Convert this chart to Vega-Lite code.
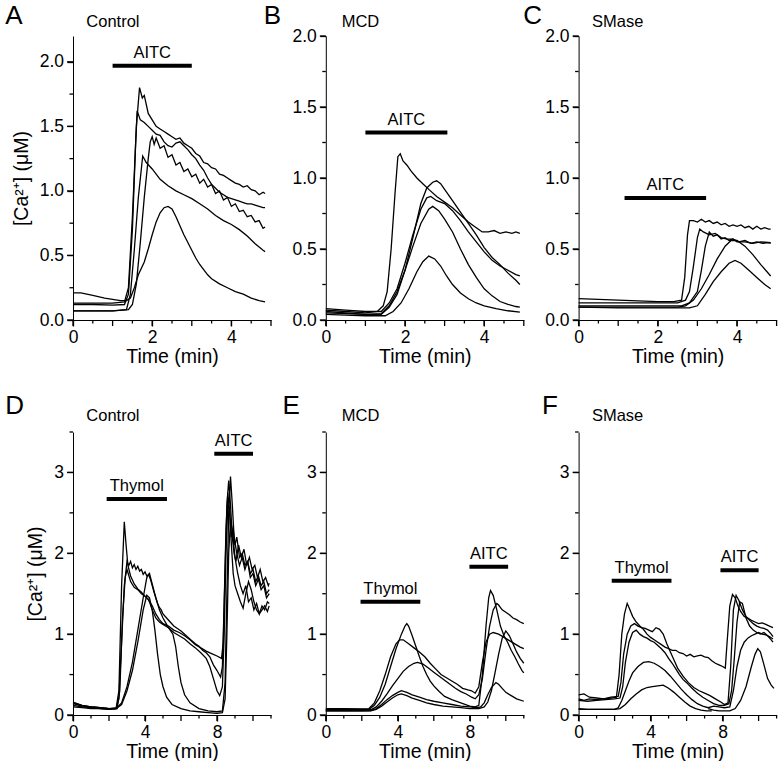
{
"$schema":"https://vega.github.io/schema/vega-lite/v6.json",
"padding":{"left":5,"top":2,"right":0,"bottom":0},
"config":{"view":{"stroke":null},"font":"Liberation Sans",
 "axis":{"grid":false,"domainColor":"#000","tickColor":"#000","labelColor":"#000","titleColor":"#000","labelFont":"Liberation Sans","titleFont":"Liberation Sans","labelFontSize":17.5,"titleFontSize":19.5,"titleFontWeight":"normal","labelOverlap":false,"labelFlush":false,"domainWidth":1,"tickWidth":1.3,"tickSize":6,"ticks":true},
 "axisX":{"labelPadding":2,"titlePadding":2},
 "axisY":{"labelPadding":3.5,"titlePadding":8},
 "text":{"font":"Liberation Sans","color":"#000"}},
"datasets":{
"xt5":[{"t":0,"m":1},{"t":0.5,"m":0},{"t":1,"m":1},{"t":1.5,"m":0},{"t":2,"m":1},{"t":2.5,"m":0},{"t":3,"m":1},{"t":3.5,"m":0},{"t":4,"m":1},{"t":4.5,"m":0},{"t":5,"m":1}],
"xt11":[{"t":0,"m":1},{"t":1,"m":0},{"t":2,"m":1},{"t":3,"m":0},{"t":4,"m":1},{"t":5,"m":0},{"t":6,"m":1},{"t":7,"m":0},{"t":8,"m":1},{"t":9,"m":0},{"t":10,"m":1},{"t":11,"m":0}],
"yt2":[{"v":0,"m":1},{"v":0.25,"m":0},{"v":0.5,"m":1},{"v":0.75,"m":0},{"v":1,"m":1},{"v":1.25,"m":0},{"v":1.5,"m":1},{"v":1.75,"m":0},{"v":2,"m":1}],
"yt35":[{"v":0,"m":1},{"v":0.5,"m":0},{"v":1,"m":1},{"v":1.5,"m":0},{"v":2,"m":1},{"v":2.5,"m":0},{"v":3,"m":1},{"v":3.5,"m":0}],
"A":[
{"s":1,"t":0,"v":0.13},{"s":1,"t":0.5,"v":0.13},{"s":1,"t":1,"v":0.13},{"s":1,"t":1.3,"v":0.14},{"s":1,"t":1.4,"v":0.25},{"s":1,"t":1.5,"v":0.8},{"s":1,"t":1.6,"v":1.5},{"s":1,"t":1.68,"v":1.8},{"s":1,"t":1.75,"v":1.72},{"s":1,"t":1.8,"v":1.74},{"s":1,"t":1.9,"v":1.6},{"s":1,"t":2,"v":1.55},{"s":1,"t":2.1,"v":1.5},{"s":1,"t":2.2,"v":1.48},{"s":1,"t":2.3,"v":1.46},{"s":1,"t":2.4,"v":1.44},{"s":1,"t":2.5,"v":1.42},{"s":1,"t":2.6,"v":1.4},{"s":1,"t":2.7,"v":1.41},{"s":1,"t":2.8,"v":1.37},{"s":1,"t":2.9,"v":1.35},{"s":1,"t":3,"v":1.33},{"s":1,"t":3.1,"v":1.29},{"s":1,"t":3.2,"v":1.27},{"s":1,"t":3.3,"v":1.22},{"s":1,"t":3.4,"v":1.21},{"s":1,"t":3.5,"v":1.18},{"s":1,"t":3.6,"v":1.17},{"s":1,"t":3.7,"v":1.13},{"s":1,"t":3.8,"v":1.12},{"s":1,"t":3.9,"v":1.1},{"s":1,"t":4,"v":1.08},{"s":1,"t":4.1,"v":1.06},{"s":1,"t":4.2,"v":1.05},{"s":1,"t":4.3,"v":1.03},{"s":1,"t":4.4,"v":1.04},{"s":1,"t":4.5,"v":1.01},{"s":1,"t":4.6,"v":1.0},{"s":1,"t":4.7,"v":0.97},{"s":1,"t":4.8,"v":0.99},{"s":1,"t":4.85,"v":0.98},
{"s":2,"t":0,"v":0.12},{"s":2,"t":0.5,"v":0.12},{"s":2,"t":1,"v":0.115},{"s":2,"t":1.3,"v":0.12},{"s":2,"t":1.4,"v":0.2},{"s":2,"t":1.5,"v":0.7},{"s":2,"t":1.58,"v":1.35},{"s":2,"t":1.62,"v":1.62},{"s":2,"t":1.7,"v":1.55},{"s":2,"t":1.8,"v":1.53},{"s":2,"t":1.9,"v":1.5},{"s":2,"t":2,"v":1.47},{"s":2,"t":2.1,"v":1.44},{"s":2,"t":2.2,"v":1.43},{"s":2,"t":2.3,"v":1.38},{"s":2,"t":2.4,"v":1.35},{"s":2,"t":2.5,"v":1.34},{"s":2,"t":2.6,"v":1.37},{"s":2,"t":2.7,"v":1.38},{"s":2,"t":2.8,"v":1.35},{"s":2,"t":2.9,"v":1.32},{"s":2,"t":3,"v":1.28},{"s":2,"t":3.1,"v":1.25},{"s":2,"t":3.2,"v":1.2},{"s":2,"t":3.3,"v":1.16},{"s":2,"t":3.4,"v":1.1},{"s":2,"t":3.5,"v":1.05},{"s":2,"t":3.6,"v":1.02},{"s":2,"t":3.7,"v":0.99},{"s":2,"t":3.8,"v":0.97},{"s":2,"t":3.9,"v":0.95},{"s":2,"t":4,"v":0.94},{"s":2,"t":4.1,"v":0.93},{"s":2,"t":4.2,"v":0.92},{"s":2,"t":4.3,"v":0.91},{"s":2,"t":4.4,"v":0.9},{"s":2,"t":4.5,"v":0.9},{"s":2,"t":4.6,"v":0.89},{"s":2,"t":4.7,"v":0.88},{"s":2,"t":4.8,"v":0.87},{"s":2,"t":4.85,"v":0.87},
{"s":3,"t":0,"v":0.07},{"s":3,"t":0.5,"v":0.07},{"s":3,"t":1,"v":0.07},{"s":3,"t":1.4,"v":0.08},{"s":3,"t":1.5,"v":0.12},{"s":3,"t":1.6,"v":0.28},{"s":3,"t":1.7,"v":0.6},{"s":3,"t":1.8,"v":0.95},{"s":3,"t":1.9,"v":1.25},{"s":3,"t":1.95,"v":1.38},{"s":3,"t":2,"v":1.42},{"s":3,"t":2.05,"v":1.36},{"s":3,"t":2.1,"v":1.41},{"s":3,"t":2.2,"v":1.33},{"s":3,"t":2.3,"v":1.35},{"s":3,"t":2.4,"v":1.26},{"s":3,"t":2.5,"v":1.28},{"s":3,"t":2.6,"v":1.2},{"s":3,"t":2.7,"v":1.22},{"s":3,"t":2.8,"v":1.15},{"s":3,"t":2.9,"v":1.17},{"s":3,"t":3,"v":1.11},{"s":3,"t":3.1,"v":1.13},{"s":3,"t":3.2,"v":1.06},{"s":3,"t":3.3,"v":1.09},{"s":3,"t":3.4,"v":1.03},{"s":3,"t":3.5,"v":1.05},{"s":3,"t":3.6,"v":0.98},{"s":3,"t":3.7,"v":1.0},{"s":3,"t":3.8,"v":0.93},{"s":3,"t":3.9,"v":0.95},{"s":3,"t":4,"v":0.88},{"s":3,"t":4.1,"v":0.9},{"s":3,"t":4.2,"v":0.84},{"s":3,"t":4.3,"v":0.85},{"s":3,"t":4.4,"v":0.8},{"s":3,"t":4.5,"v":0.81},{"s":3,"t":4.6,"v":0.76},{"s":3,"t":4.7,"v":0.77},{"s":3,"t":4.8,"v":0.71},{"s":3,"t":4.85,"v":0.72},
{"s":4,"t":0,"v":0.07},{"s":4,"t":0.5,"v":0.07},{"s":4,"t":1,"v":0.07},{"s":4,"t":1.35,"v":0.08},{"s":4,"t":1.45,"v":0.2},{"s":4,"t":1.55,"v":0.55},{"s":4,"t":1.65,"v":0.95},{"s":4,"t":1.76,"v":1.27},{"s":4,"t":1.85,"v":1.22},{"s":4,"t":2,"v":1.17},{"s":4,"t":2.2,"v":1.09},{"s":4,"t":2.4,"v":1.04},{"s":4,"t":2.6,"v":1.0},{"s":4,"t":2.8,"v":0.97},{"s":4,"t":3,"v":0.94},{"s":4,"t":3.2,"v":0.9},{"s":4,"t":3.4,"v":0.86},{"s":4,"t":3.6,"v":0.81},{"s":4,"t":3.8,"v":0.77},{"s":4,"t":4,"v":0.74},{"s":4,"t":4.2,"v":0.7},{"s":4,"t":4.4,"v":0.65},{"s":4,"t":4.6,"v":0.59},{"s":4,"t":4.8,"v":0.54},{"s":4,"t":4.85,"v":0.53},
{"s":5,"t":0,"v":0.21},{"s":5,"t":0.2,"v":0.21},{"s":5,"t":0.5,"v":0.19},{"s":5,"t":0.8,"v":0.17},{"s":5,"t":1,"v":0.16},{"s":5,"t":1.2,"v":0.15},{"s":5,"t":1.35,"v":0.15},{"s":5,"t":1.45,"v":0.17},{"s":5,"t":1.55,"v":0.25},{"s":5,"t":1.65,"v":0.35},{"s":5,"t":1.8,"v":0.45},{"s":5,"t":1.9,"v":0.55},{"s":5,"t":2,"v":0.66},{"s":5,"t":2.1,"v":0.76},{"s":5,"t":2.2,"v":0.83},{"s":5,"t":2.3,"v":0.87},{"s":5,"t":2.4,"v":0.88},{"s":5,"t":2.5,"v":0.86},{"s":5,"t":2.6,"v":0.8},{"s":5,"t":2.7,"v":0.73},{"s":5,"t":2.8,"v":0.66},{"s":5,"t":2.9,"v":0.6},{"s":5,"t":3,"v":0.54},{"s":5,"t":3.1,"v":0.48},{"s":5,"t":3.2,"v":0.43},{"s":5,"t":3.3,"v":0.39},{"s":5,"t":3.4,"v":0.35},{"s":5,"t":3.5,"v":0.32},{"s":5,"t":3.7,"v":0.28},{"s":5,"t":3.9,"v":0.25},{"s":5,"t":4.1,"v":0.22},{"s":5,"t":4.3,"v":0.2},{"s":5,"t":4.5,"v":0.17},{"s":5,"t":4.7,"v":0.15},{"s":5,"t":4.85,"v":0.14}
],
"B":[
{"s":1,"t":0,"v":0.07},{"s":1,"t":0.5,"v":0.06},{"s":1,"t":1,"v":0.05},{"s":1,"t":1.3,"v":0.06},{"s":1,"t":1.45,"v":0.1},{"s":1,"t":1.55,"v":0.2},{"s":1,"t":1.65,"v":0.5},{"s":1,"t":1.75,"v":0.9},{"s":1,"t":1.82,"v":1.15},{"s":1,"t":1.88,"v":1.17},{"s":1,"t":1.95,"v":1.12},{"s":1,"t":2.05,"v":1.09},{"s":1,"t":2.15,"v":1.05},{"s":1,"t":2.3,"v":1.0},{"s":1,"t":2.45,"v":0.96},{"s":1,"t":2.6,"v":0.92},{"s":1,"t":2.8,"v":0.87},{"s":1,"t":3,"v":0.83},{"s":1,"t":3.2,"v":0.79},{"s":1,"t":3.4,"v":0.74},{"s":1,"t":3.6,"v":0.69},{"s":1,"t":3.8,"v":0.65},{"s":1,"t":3.95,"v":0.62},{"s":1,"t":4.1,"v":0.62},{"s":1,"t":4.25,"v":0.63},{"s":1,"t":4.4,"v":0.61},{"s":1,"t":4.55,"v":0.62},{"s":1,"t":4.7,"v":0.61},{"s":1,"t":4.8,"v":0.62},{"s":1,"t":4.9,"v":0.61},
{"s":2,"t":0,"v":0.05},{"s":2,"t":0.5,"v":0.045},{"s":2,"t":1,"v":0.04},{"s":2,"t":1.4,"v":0.045},{"s":2,"t":1.6,"v":0.1},{"s":2,"t":1.8,"v":0.2},{"s":2,"t":2,"v":0.35},{"s":2,"t":2.2,"v":0.58},{"s":2,"t":2.4,"v":0.82},{"s":2,"t":2.55,"v":0.93},{"s":2,"t":2.7,"v":0.97},{"s":2,"t":2.8,"v":0.98},{"s":2,"t":2.9,"v":0.96},{"s":2,"t":3,"v":0.92},{"s":2,"t":3.2,"v":0.84},{"s":2,"t":3.4,"v":0.76},{"s":2,"t":3.6,"v":0.68},{"s":2,"t":3.8,"v":0.6},{"s":2,"t":4,"v":0.51},{"s":2,"t":4.2,"v":0.44},{"s":2,"t":4.4,"v":0.39},{"s":2,"t":4.6,"v":0.33},{"s":2,"t":4.8,"v":0.28},{"s":2,"t":4.9,"v":0.25},
{"s":3,"t":0,"v":0.08},{"s":3,"t":0.5,"v":0.07},{"s":3,"t":1,"v":0.06},{"s":3,"t":1.4,"v":0.06},{"s":3,"t":1.6,"v":0.12},{"s":3,"t":1.8,"v":0.22},{"s":3,"t":2,"v":0.4},{"s":3,"t":2.2,"v":0.6},{"s":3,"t":2.4,"v":0.78},{"s":3,"t":2.55,"v":0.86},{"s":3,"t":2.65,"v":0.87},{"s":3,"t":2.8,"v":0.84},{"s":3,"t":3,"v":0.82},{"s":3,"t":3.2,"v":0.77},{"s":3,"t":3.4,"v":0.7},{"s":3,"t":3.6,"v":0.62},{"s":3,"t":3.8,"v":0.55},{"s":3,"t":4,"v":0.48},{"s":3,"t":4.2,"v":0.42},{"s":3,"t":4.4,"v":0.38},{"s":3,"t":4.6,"v":0.35},{"s":3,"t":4.8,"v":0.32},{"s":3,"t":4.9,"v":0.31},
{"s":4,"t":0,"v":0.06},{"s":4,"t":0.5,"v":0.05},{"s":4,"t":1,"v":0.04},{"s":4,"t":1.4,"v":0.04},{"s":4,"t":1.6,"v":0.09},{"s":4,"t":1.8,"v":0.18},{"s":4,"t":2,"v":0.35},{"s":4,"t":2.2,"v":0.52},{"s":4,"t":2.4,"v":0.68},{"s":4,"t":2.6,"v":0.78},{"s":4,"t":2.7,"v":0.8},{"s":4,"t":2.85,"v":0.77},{"s":4,"t":3,"v":0.71},{"s":4,"t":3.2,"v":0.62},{"s":4,"t":3.4,"v":0.5},{"s":4,"t":3.6,"v":0.39},{"s":4,"t":3.8,"v":0.3},{"s":4,"t":4,"v":0.22},{"s":4,"t":4.2,"v":0.17},{"s":4,"t":4.4,"v":0.13},{"s":4,"t":4.6,"v":0.11},{"s":4,"t":4.8,"v":0.095},{"s":4,"t":4.9,"v":0.09},
{"s":5,"t":0,"v":0.04},{"s":5,"t":0.5,"v":0.035},{"s":5,"t":1,"v":0.03},{"s":5,"t":1.5,"v":0.03},{"s":5,"t":1.7,"v":0.06},{"s":5,"t":1.9,"v":0.12},{"s":5,"t":2.1,"v":0.22},{"s":5,"t":2.3,"v":0.34},{"s":5,"t":2.45,"v":0.41},{"s":5,"t":2.6,"v":0.45},{"s":5,"t":2.75,"v":0.43},{"s":5,"t":2.9,"v":0.38},{"s":5,"t":3.05,"v":0.31},{"s":5,"t":3.2,"v":0.25},{"s":5,"t":3.4,"v":0.19},{"s":5,"t":3.6,"v":0.15},{"s":5,"t":3.8,"v":0.12},{"s":5,"t":4,"v":0.1},{"s":5,"t":4.3,"v":0.08},{"s":5,"t":4.6,"v":0.065},{"s":5,"t":4.9,"v":0.055}
],
"C":[
{"s":1,"t":0,"v":0.15},{"s":1,"t":0.5,"v":0.145},{"s":1,"t":1,"v":0.14},{"s":1,"t":1.5,"v":0.135},{"s":1,"t":2,"v":0.13},{"s":1,"t":2.4,"v":0.13},{"s":1,"t":2.6,"v":0.14},{"s":1,"t":2.68,"v":0.3},{"s":1,"t":2.75,"v":0.6},{"s":1,"t":2.8,"v":0.7},{"s":1,"t":2.9,"v":0.7},{"s":1,"t":3,"v":0.69},{"s":1,"t":3.1,"v":0.71},{"s":1,"t":3.2,"v":0.69},{"s":1,"t":3.3,"v":0.7},{"s":1,"t":3.4,"v":0.68},{"s":1,"t":3.5,"v":0.69},{"s":1,"t":3.6,"v":0.67},{"s":1,"t":3.7,"v":0.68},{"s":1,"t":3.8,"v":0.66},{"s":1,"t":3.9,"v":0.67},{"s":1,"t":4,"v":0.66},{"s":1,"t":4.1,"v":0.67},{"s":1,"t":4.2,"v":0.65},{"s":1,"t":4.3,"v":0.66},{"s":1,"t":4.4,"v":0.64},{"s":1,"t":4.5,"v":0.66},{"s":1,"t":4.6,"v":0.64},{"s":1,"t":4.7,"v":0.65},{"s":1,"t":4.8,"v":0.64},{"s":1,"t":4.85,"v":0.64},
{"s":2,"t":0,"v":0.12},{"s":2,"t":1,"v":0.12},{"s":2,"t":2,"v":0.12},{"s":2,"t":2.5,"v":0.12},{"s":2,"t":2.7,"v":0.14},{"s":2,"t":2.8,"v":0.2},{"s":2,"t":2.9,"v":0.38},{"s":2,"t":3,"v":0.58},{"s":2,"t":3.06,"v":0.64},{"s":2,"t":3.15,"v":0.62},{"s":2,"t":3.3,"v":0.6},{"s":2,"t":3.45,"v":0.61},{"s":2,"t":3.6,"v":0.58},{"s":2,"t":3.75,"v":0.57},{"s":2,"t":3.9,"v":0.57},{"s":2,"t":4.05,"v":0.55},{"s":2,"t":4.2,"v":0.56},{"s":2,"t":4.35,"v":0.54},{"s":2,"t":4.5,"v":0.55},{"s":2,"t":4.65,"v":0.54},{"s":2,"t":4.8,"v":0.545},{"s":2,"t":4.85,"v":0.54},
{"s":3,"t":0,"v":0.1},{"s":3,"t":1,"v":0.1},{"s":3,"t":2,"v":0.1},{"s":3,"t":2.6,"v":0.1},{"s":3,"t":2.8,"v":0.12},{"s":3,"t":3,"v":0.2},{"s":3,"t":3.1,"v":0.35},{"s":3,"t":3.2,"v":0.52},{"s":3,"t":3.3,"v":0.62},{"s":3,"t":3.4,"v":0.59},{"s":3,"t":3.5,"v":0.6},{"s":3,"t":3.6,"v":0.57},{"s":3,"t":3.7,"v":0.58},{"s":3,"t":3.8,"v":0.56},{"s":3,"t":3.9,"v":0.57},{"s":3,"t":4,"v":0.55},{"s":3,"t":4.2,"v":0.55},{"s":3,"t":4.4,"v":0.54},{"s":3,"t":4.6,"v":0.55},{"s":3,"t":4.85,"v":0.545},
{"s":4,"t":0,"v":0.09},{"s":4,"t":1,"v":0.09},{"s":4,"t":2,"v":0.09},{"s":4,"t":2.5,"v":0.09},{"s":4,"t":2.7,"v":0.1},{"s":4,"t":2.9,"v":0.14},{"s":4,"t":3.1,"v":0.22},{"s":4,"t":3.3,"v":0.32},{"s":4,"t":3.5,"v":0.43},{"s":4,"t":3.7,"v":0.52},{"s":4,"t":3.85,"v":0.56},{"s":4,"t":4,"v":0.56},{"s":4,"t":4.2,"v":0.52},{"s":4,"t":4.4,"v":0.46},{"s":4,"t":4.6,"v":0.39},{"s":4,"t":4.85,"v":0.31},
{"s":5,"t":0,"v":0.09},{"s":5,"t":1,"v":0.085},{"s":5,"t":2,"v":0.085},{"s":5,"t":2.8,"v":0.085},{"s":5,"t":3,"v":0.1},{"s":5,"t":3.2,"v":0.18},{"s":5,"t":3.4,"v":0.27},{"s":5,"t":3.6,"v":0.34},{"s":5,"t":3.8,"v":0.4},{"s":5,"t":3.95,"v":0.42},{"s":5,"t":4.1,"v":0.4},{"s":5,"t":4.3,"v":0.35},{"s":5,"t":4.5,"v":0.3},{"s":5,"t":4.7,"v":0.25},{"s":5,"t":4.85,"v":0.22}
],
"D":[
{"s":1,"t":0,"v":0.15},{"s":1,"t":0.5,"v":0.12},{"s":1,"t":1,"v":0.1},{"s":1,"t":1.5,"v":0.09},{"s":1,"t":2,"v":0.08},{"s":1,"t":2.4,"v":0.09},{"s":1,"t":2.55,"v":0.3},{"s":1,"t":2.7,"v":1.6},{"s":1,"t":2.85,"v":2.39},{"s":1,"t":2.95,"v":2.1},{"s":1,"t":3.05,"v":1.85},{"s":1,"t":3.2,"v":1.72},{"s":1,"t":3.4,"v":1.62},{"s":1,"t":3.6,"v":1.56},{"s":1,"t":3.8,"v":1.52},{"s":1,"t":4,"v":1.47},{"s":1,"t":4.2,"v":1.42},{"s":1,"t":4.4,"v":1.35},{"s":1,"t":4.6,"v":1.25},{"s":1,"t":4.8,"v":1.18},{"s":1,"t":5,"v":1.13},{"s":1,"t":5.3,"v":1.1},{"s":1,"t":5.6,"v":1.05},{"s":1,"t":5.9,"v":1.02},{"s":1,"t":6.2,"v":0.98},{"s":1,"t":6.5,"v":0.93},{"s":1,"t":6.8,"v":0.87},{"s":1,"t":7.1,"v":0.83},{"s":1,"t":7.4,"v":0.79},{"s":1,"t":7.7,"v":0.76},{"s":1,"t":8,"v":0.73},{"s":1,"t":8.25,"v":0.7},{"s":1,"t":8.35,"v":0.9},{"s":1,"t":8.45,"v":1.8},{"s":1,"t":8.55,"v":2.6},{"s":1,"t":8.65,"v":2.9},{"s":1,"t":8.75,"v":2.6},{"s":1,"t":8.85,"v":2.2},{"s":1,"t":8.95,"v":2.0},{"s":1,"t":9.05,"v":1.9},{"s":1,"t":9.2,"v":2.1},{"s":1,"t":9.35,"v":1.95},{"s":1,"t":9.5,"v":2.05},{"s":1,"t":9.65,"v":1.85},{"s":1,"t":9.8,"v":1.95},{"s":1,"t":9.95,"v":1.8},{"s":1,"t":10.1,"v":1.85},{"s":1,"t":10.25,"v":1.7},{"s":1,"t":10.4,"v":1.8},{"s":1,"t":10.55,"v":1.65},{"s":1,"t":10.7,"v":1.7},{"s":1,"t":10.85,"v":1.6},{"s":1,"t":10.9,"v":1.63},
{"s":2,"t":0,"v":0.12},{"s":2,"t":0.5,"v":0.1},{"s":2,"t":1,"v":0.09},{"s":2,"t":1.5,"v":0.08},{"s":2,"t":2,"v":0.07},{"s":2,"t":2.4,"v":0.08},{"s":2,"t":2.55,"v":0.2},{"s":2,"t":2.7,"v":0.9},{"s":2,"t":2.85,"v":1.6},{"s":2,"t":3,"v":1.9},{"s":2,"t":3.1,"v":1.85},{"s":2,"t":3.2,"v":1.9},{"s":2,"t":3.3,"v":1.82},{"s":2,"t":3.4,"v":1.86},{"s":2,"t":3.5,"v":1.8},{"s":2,"t":3.6,"v":1.84},{"s":2,"t":3.7,"v":1.78},{"s":2,"t":3.8,"v":1.8},{"s":2,"t":3.9,"v":1.74},{"s":2,"t":4,"v":1.77},{"s":2,"t":4.1,"v":1.72},{"s":2,"t":4.2,"v":1.74},{"s":2,"t":4.3,"v":1.68},{"s":2,"t":4.4,"v":1.6},{"s":2,"t":4.5,"v":1.52},{"s":2,"t":4.6,"v":1.45},{"s":2,"t":4.7,"v":1.38},{"s":2,"t":4.8,"v":1.33},{"s":2,"t":4.9,"v":1.3},{"s":2,"t":5,"v":1.25},{"s":2,"t":5.2,"v":1.2},{"s":2,"t":5.4,"v":1.15},{"s":2,"t":5.6,"v":1.1},{"s":2,"t":5.8,"v":1.07},{"s":2,"t":6,"v":1.04},{"s":2,"t":6.2,"v":1.0},{"s":2,"t":6.4,"v":0.96},{"s":2,"t":6.6,"v":0.92},{"s":2,"t":6.8,"v":0.88},{"s":2,"t":7,"v":0.85},{"s":2,"t":7.2,"v":0.8},{"s":2,"t":7.4,"v":0.77},{"s":2,"t":7.6,"v":0.72},{"s":2,"t":7.8,"v":0.62},{"s":2,"t":8,"v":0.55},{"s":2,"t":8.2,"v":0.47},{"s":2,"t":8.3,"v":0.6},{"s":2,"t":8.4,"v":1.4},{"s":2,"t":8.5,"v":2.3},{"s":2,"t":8.6,"v":2.75},{"s":2,"t":8.7,"v":2.5},{"s":2,"t":8.8,"v":2.2},{"s":2,"t":8.9,"v":2.3},{"s":2,"t":9,"v":2.1},{"s":2,"t":9.1,"v":2.2},{"s":2,"t":9.25,"v":1.95},{"s":2,"t":9.4,"v":2.0},{"s":2,"t":9.55,"v":1.85},{"s":2,"t":9.7,"v":1.9},{"s":2,"t":9.85,"v":1.75},{"s":2,"t":10,"v":1.8},{"s":2,"t":10.15,"v":1.65},{"s":2,"t":10.3,"v":1.72},{"s":2,"t":10.45,"v":1.6},{"s":2,"t":10.6,"v":1.65},{"s":2,"t":10.75,"v":1.5},{"s":2,"t":10.9,"v":1.55},
{"s":3,"t":0,"v":0.14},{"s":3,"t":0.5,"v":0.11},{"s":3,"t":1,"v":0.1},{"s":3,"t":1.5,"v":0.09},{"s":3,"t":2,"v":0.08},{"s":3,"t":2.45,"v":0.08},{"s":3,"t":2.6,"v":0.3},{"s":3,"t":2.75,"v":1.2},{"s":3,"t":2.9,"v":1.7},{"s":3,"t":3,"v":1.8},{"s":3,"t":3.2,"v":1.65},{"s":3,"t":3.4,"v":1.58},{"s":3,"t":3.6,"v":1.55},{"s":3,"t":3.8,"v":1.5},{"s":3,"t":4,"v":1.47},{"s":3,"t":4.2,"v":1.43},{"s":3,"t":4.4,"v":1.3},{"s":3,"t":4.6,"v":1.2},{"s":3,"t":4.8,"v":1.15},{"s":3,"t":5,"v":1.12},{"s":3,"t":5.3,"v":1.08},{"s":3,"t":5.6,"v":1.02},{"s":3,"t":5.9,"v":0.98},{"s":3,"t":6.2,"v":0.94},{"s":3,"t":6.5,"v":0.88},{"s":3,"t":6.8,"v":0.83},{"s":3,"t":7.1,"v":0.77},{"s":3,"t":7.4,"v":0.7},{"s":3,"t":7.6,"v":0.6},{"s":3,"t":7.8,"v":0.45},{"s":3,"t":8,"v":0.3},{"s":3,"t":8.15,"v":0.24},{"s":3,"t":8.3,"v":0.35},{"s":3,"t":8.4,"v":1.0},{"s":3,"t":8.5,"v":2.0},{"s":3,"t":8.6,"v":2.6},{"s":3,"t":8.7,"v":2.55},{"s":3,"t":8.8,"v":2.1},{"s":3,"t":8.9,"v":1.75},{"s":3,"t":9,"v":1.6},{"s":3,"t":9.15,"v":1.5},{"s":3,"t":9.3,"v":1.4},{"s":3,"t":9.45,"v":1.32},{"s":3,"t":9.6,"v":1.5},{"s":3,"t":9.75,"v":1.65},{"s":3,"t":9.9,"v":1.55},{"s":3,"t":10.05,"v":1.4},{"s":3,"t":10.2,"v":1.3},{"s":3,"t":10.35,"v":1.25},{"s":3,"t":10.5,"v":1.3},{"s":3,"t":10.65,"v":1.35},{"s":3,"t":10.8,"v":1.28},{"s":3,"t":10.9,"v":1.35},
{"s":4,"t":0,"v":0.1},{"s":4,"t":0.5,"v":0.09},{"s":4,"t":1,"v":0.08},{"s":4,"t":1.5,"v":0.08},{"s":4,"t":2,"v":0.07},{"s":4,"t":2.4,"v":0.08},{"s":4,"t":2.7,"v":0.15},{"s":4,"t":3,"v":0.35},{"s":4,"t":3.3,"v":0.65},{"s":4,"t":3.6,"v":1.05},{"s":4,"t":3.9,"v":1.45},{"s":4,"t":4.1,"v":1.7},{"s":4,"t":4.25,"v":1.75},{"s":4,"t":4.4,"v":1.62},{"s":4,"t":4.6,"v":1.45},{"s":4,"t":4.8,"v":1.3},{"s":4,"t":5,"v":1.2},{"s":4,"t":5.2,"v":1.12},{"s":4,"t":5.4,"v":1.05},{"s":4,"t":5.55,"v":1.0},{"s":4,"t":5.7,"v":0.85},{"s":4,"t":5.85,"v":0.6},{"s":4,"t":6,"v":0.4},{"s":4,"t":6.2,"v":0.25},{"s":4,"t":6.5,"v":0.15},{"s":4,"t":7,"v":0.08},{"s":4,"t":7.5,"v":0.05},{"s":4,"t":8,"v":0.04},{"s":4,"t":8.3,"v":0.05},{"s":4,"t":8.45,"v":0.4},{"s":4,"t":8.55,"v":1.5},{"s":4,"t":8.65,"v":2.5},{"s":4,"t":8.75,"v":2.95},{"s":4,"t":8.85,"v":2.6},{"s":4,"t":8.95,"v":2.2},{"s":4,"t":9.1,"v":2.0},{"s":4,"t":9.25,"v":1.85},{"s":4,"t":9.4,"v":1.95},{"s":4,"t":9.55,"v":1.8},{"s":4,"t":9.7,"v":1.9},{"s":4,"t":9.85,"v":1.7},{"s":4,"t":10,"v":1.75},{"s":4,"t":10.15,"v":1.6},{"s":4,"t":10.3,"v":1.68},{"s":4,"t":10.45,"v":1.55},{"s":4,"t":10.6,"v":1.6},{"s":4,"t":10.75,"v":1.45},{"s":4,"t":10.9,"v":1.5},
{"s":5,"t":0,"v":0.16},{"s":5,"t":0.5,"v":0.12},{"s":5,"t":1,"v":0.1},{"s":5,"t":1.5,"v":0.09},{"s":5,"t":2,"v":0.08},{"s":5,"t":2.4,"v":0.08},{"s":5,"t":2.7,"v":0.13},{"s":5,"t":3,"v":0.3},{"s":5,"t":3.3,"v":0.55},{"s":5,"t":3.6,"v":0.9},{"s":5,"t":3.9,"v":1.3},{"s":5,"t":4.1,"v":1.48},{"s":5,"t":4.25,"v":1.45},{"s":5,"t":4.4,"v":1.3},{"s":5,"t":4.55,"v":1.05},{"s":5,"t":4.7,"v":0.75},{"s":5,"t":4.85,"v":0.5},{"s":5,"t":5,"v":0.35},{"s":5,"t":5.2,"v":0.22},{"s":5,"t":5.5,"v":0.13},{"s":5,"t":6,"v":0.08},{"s":5,"t":6.5,"v":0.05},{"s":5,"t":7,"v":0.04},{"s":5,"t":7.5,"v":0.03},{"s":5,"t":8,"v":0.02},{"s":5,"t":8.3,"v":0.03},{"s":5,"t":8.45,"v":0.2},{"s":5,"t":8.55,"v":1.0},{"s":5,"t":8.65,"v":2.0},{"s":5,"t":8.75,"v":2.4},{"s":5,"t":8.85,"v":2.3},{"s":5,"t":9,"v":1.95},{"s":5,"t":9.15,"v":1.75},{"s":5,"t":9.3,"v":1.6},{"s":5,"t":9.45,"v":1.5},{"s":5,"t":9.6,"v":1.6},{"s":5,"t":9.75,"v":1.4},{"s":5,"t":9.9,"v":1.45},{"s":5,"t":10.05,"v":1.3},{"s":5,"t":10.2,"v":1.38},{"s":5,"t":10.35,"v":1.25},{"s":5,"t":10.5,"v":1.35},{"s":5,"t":10.65,"v":1.3},{"s":5,"t":10.8,"v":1.4},{"s":5,"t":10.9,"v":1.38}
],
"E":[
{"s":1,"t":0,"v":0.07},{"s":1,"t":1,"v":0.07},{"s":1,"t":2,"v":0.07},{"s":1,"t":2.4,"v":0.07},{"s":1,"t":2.7,"v":0.12},{"s":1,"t":3,"v":0.22},{"s":1,"t":3.3,"v":0.38},{"s":1,"t":3.6,"v":0.6},{"s":1,"t":3.9,"v":0.82},{"s":1,"t":4.2,"v":1.0},{"s":1,"t":4.4,"v":1.1},{"s":1,"t":4.5,"v":1.13},{"s":1,"t":4.6,"v":1.1},{"s":1,"t":4.8,"v":0.98},{"s":1,"t":5,"v":0.85},{"s":1,"t":5.2,"v":0.72},{"s":1,"t":5.4,"v":0.6},{"s":1,"t":5.6,"v":0.5},{"s":1,"t":5.8,"v":0.42},{"s":1,"t":6,"v":0.36},{"s":1,"t":6.3,"v":0.29},{"s":1,"t":6.6,"v":0.23},{"s":1,"t":7,"v":0.19},{"s":1,"t":7.5,"v":0.15},{"s":1,"t":8,"v":0.11},{"s":1,"t":8.3,"v":0.1},{"s":1,"t":8.5,"v":0.12},{"s":1,"t":8.7,"v":0.5},{"s":1,"t":8.9,"v":1.1},{"s":1,"t":9.05,"v":1.45},{"s":1,"t":9.15,"v":1.54},{"s":1,"t":9.3,"v":1.48},{"s":1,"t":9.5,"v":1.3},{"s":1,"t":9.7,"v":1.1},{"s":1,"t":9.9,"v":0.98},{"s":1,"t":10.1,"v":0.9},{"s":1,"t":10.3,"v":0.8},{"s":1,"t":10.5,"v":0.72},{"s":1,"t":10.7,"v":0.63},{"s":1,"t":10.9,"v":0.55},{"s":1,"t":11,"v":0.52},
{"s":2,"t":0,"v":0.08},{"s":2,"t":1,"v":0.08},{"s":2,"t":2,"v":0.075},{"s":2,"t":2.4,"v":0.08},{"s":2,"t":2.7,"v":0.15},{"s":2,"t":3,"v":0.3},{"s":2,"t":3.3,"v":0.5},{"s":2,"t":3.6,"v":0.72},{"s":2,"t":3.9,"v":0.88},{"s":2,"t":4.1,"v":0.93},{"s":2,"t":4.3,"v":0.93},{"s":2,"t":4.6,"v":0.88},{"s":2,"t":4.9,"v":0.83},{"s":2,"t":5.2,"v":0.78},{"s":2,"t":5.5,"v":0.72},{"s":2,"t":5.8,"v":0.64},{"s":2,"t":6.1,"v":0.57},{"s":2,"t":6.4,"v":0.5},{"s":2,"t":6.7,"v":0.46},{"s":2,"t":7,"v":0.42},{"s":2,"t":7.3,"v":0.38},{"s":2,"t":7.6,"v":0.33},{"s":2,"t":7.9,"v":0.31},{"s":2,"t":8.1,"v":0.3},{"s":2,"t":8.3,"v":0.27},{"s":2,"t":8.5,"v":0.35},{"s":2,"t":8.7,"v":0.65},{"s":2,"t":8.9,"v":0.9},{"s":2,"t":9.1,"v":1.0},{"s":2,"t":9.3,"v":1.02},{"s":2,"t":9.6,"v":1.0},{"s":2,"t":9.9,"v":0.96},{"s":2,"t":10.2,"v":0.92},{"s":2,"t":10.5,"v":0.88},{"s":2,"t":10.8,"v":0.84},{"s":2,"t":11,"v":0.82},
{"s":3,"t":0,"v":0.06},{"s":3,"t":1,"v":0.06},{"s":3,"t":2,"v":0.06},{"s":3,"t":2.5,"v":0.065},{"s":3,"t":2.8,"v":0.1},{"s":3,"t":3.1,"v":0.17},{"s":3,"t":3.4,"v":0.26},{"s":3,"t":3.7,"v":0.36},{"s":3,"t":4,"v":0.45},{"s":3,"t":4.3,"v":0.54},{"s":3,"t":4.6,"v":0.6},{"s":3,"t":4.9,"v":0.64},{"s":3,"t":5.1,"v":0.65},{"s":3,"t":5.4,"v":0.63},{"s":3,"t":5.7,"v":0.58},{"s":3,"t":6,"v":0.53},{"s":3,"t":6.3,"v":0.48},{"s":3,"t":6.6,"v":0.43},{"s":3,"t":6.9,"v":0.38},{"s":3,"t":7.2,"v":0.33},{"s":3,"t":7.5,"v":0.29},{"s":3,"t":7.8,"v":0.26},{"s":3,"t":8.1,"v":0.22},{"s":3,"t":8.3,"v":0.2},{"s":3,"t":8.5,"v":0.25},{"s":3,"t":8.7,"v":0.45},{"s":3,"t":8.9,"v":0.8},{"s":3,"t":9.1,"v":1.1},{"s":3,"t":9.3,"v":1.3},{"s":3,"t":9.5,"v":1.38},{"s":3,"t":9.6,"v":1.36},{"s":3,"t":9.8,"v":1.3},{"s":3,"t":10,"v":1.27},{"s":3,"t":10.2,"v":1.24},{"s":3,"t":10.4,"v":1.2},{"s":3,"t":10.6,"v":1.18},{"s":3,"t":10.8,"v":1.15},{"s":3,"t":11,"v":1.13},
{"s":4,"t":0,"v":0.05},{"s":4,"t":1,"v":0.05},{"s":4,"t":2,"v":0.05},{"s":4,"t":2.5,"v":0.055},{"s":4,"t":2.8,"v":0.08},{"s":4,"t":3.1,"v":0.13},{"s":4,"t":3.4,"v":0.19},{"s":4,"t":3.7,"v":0.24},{"s":4,"t":4,"v":0.28},{"s":4,"t":4.2,"v":0.3},{"s":4,"t":4.5,"v":0.28},{"s":4,"t":4.8,"v":0.25},{"s":4,"t":5.2,"v":0.22},{"s":4,"t":5.6,"v":0.19},{"s":4,"t":6,"v":0.17},{"s":4,"t":6.5,"v":0.15},{"s":4,"t":7,"v":0.13},{"s":4,"t":7.5,"v":0.11},{"s":4,"t":8,"v":0.1},{"s":4,"t":8.4,"v":0.09},{"s":4,"t":8.6,"v":0.1},{"s":4,"t":8.8,"v":0.15},{"s":4,"t":9,"v":0.25},{"s":4,"t":9.2,"v":0.34},{"s":4,"t":9.45,"v":0.4},{"s":4,"t":9.6,"v":0.38},{"s":4,"t":9.8,"v":0.33},{"s":4,"t":10,"v":0.28},{"s":4,"t":10.3,"v":0.24},{"s":4,"t":10.6,"v":0.2},{"s":4,"t":11,"v":0.17},
{"s":5,"t":0,"v":0.05},{"s":5,"t":1,"v":0.05},{"s":5,"t":2,"v":0.05},{"s":5,"t":2.5,"v":0.05},{"s":5,"t":2.8,"v":0.07},{"s":5,"t":3.1,"v":0.11},{"s":5,"t":3.4,"v":0.16},{"s":5,"t":3.7,"v":0.21},{"s":5,"t":4,"v":0.25},{"s":5,"t":4.2,"v":0.26},{"s":5,"t":4.5,"v":0.24},{"s":5,"t":4.8,"v":0.21},{"s":5,"t":5.2,"v":0.18},{"s":5,"t":5.6,"v":0.15},{"s":5,"t":6,"v":0.13},{"s":5,"t":6.5,"v":0.11},{"s":5,"t":7,"v":0.1},{"s":5,"t":7.5,"v":0.09},{"s":5,"t":8,"v":0.08},{"s":5,"t":8.5,"v":0.08},{"s":5,"t":8.8,"v":0.1},{"s":5,"t":9,"v":0.16},{"s":5,"t":9.2,"v":0.3},{"s":5,"t":9.4,"v":0.52},{"s":5,"t":9.6,"v":0.75},{"s":5,"t":9.8,"v":0.95},{"s":5,"t":10,"v":1.04},{"s":5,"t":10.2,"v":0.98},{"s":5,"t":10.4,"v":0.88},{"s":5,"t":10.6,"v":0.78},{"s":5,"t":10.8,"v":0.7},{"s":5,"t":11,"v":0.64}
],
"F":[
{"s":1,"t":0,"v":0.2},{"s":1,"t":0.3,"v":0.18},{"s":1,"t":0.6,"v":0.2},{"s":1,"t":1,"v":0.19},{"s":1,"t":1.4,"v":0.2},{"s":1,"t":1.8,"v":0.21},{"s":1,"t":2.1,"v":0.22},{"s":1,"t":2.25,"v":0.5},{"s":1,"t":2.4,"v":1.0},{"s":1,"t":2.55,"v":1.25},{"s":1,"t":2.7,"v":1.38},{"s":1,"t":2.8,"v":1.33},{"s":1,"t":3,"v":1.22},{"s":1,"t":3.2,"v":1.15},{"s":1,"t":3.4,"v":1.1},{"s":1,"t":3.6,"v":1.06},{"s":1,"t":3.8,"v":1.0},{"s":1,"t":4,"v":0.96},{"s":1,"t":4.2,"v":0.93},{"s":1,"t":4.4,"v":0.9},{"s":1,"t":4.6,"v":0.87},{"s":1,"t":4.8,"v":0.84},{"s":1,"t":5,"v":0.82},{"s":1,"t":5.2,"v":0.8},{"s":1,"t":5.4,"v":0.8},{"s":1,"t":5.6,"v":0.77},{"s":1,"t":5.8,"v":0.76},{"s":1,"t":6,"v":0.73},{"s":1,"t":6.2,"v":0.75},{"s":1,"t":6.4,"v":0.72},{"s":1,"t":6.6,"v":0.73},{"s":1,"t":6.8,"v":0.74},{"s":1,"t":7,"v":0.72},{"s":1,"t":7.2,"v":0.71},{"s":1,"t":7.4,"v":0.67},{"s":1,"t":7.6,"v":0.64},{"s":1,"t":7.8,"v":0.62},{"s":1,"t":8,"v":0.6},{"s":1,"t":8.15,"v":0.58},{"s":1,"t":8.25,"v":0.9},{"s":1,"t":8.4,"v":1.35},{"s":1,"t":8.55,"v":1.49},{"s":1,"t":8.7,"v":1.45},{"s":1,"t":8.85,"v":1.35},{"s":1,"t":9,"v":1.28},{"s":1,"t":9.2,"v":1.22},{"s":1,"t":9.4,"v":1.2},{"s":1,"t":9.6,"v":1.17},{"s":1,"t":9.8,"v":1.15},{"s":1,"t":10,"v":1.13},{"s":1,"t":10.2,"v":1.14},{"s":1,"t":10.4,"v":1.12},{"s":1,"t":10.6,"v":1.1},{"s":1,"t":10.8,"v":1.08},
{"s":2,"t":0,"v":0.25},{"s":2,"t":0.3,"v":0.26},{"s":2,"t":0.6,"v":0.22},{"s":2,"t":1,"v":0.21},{"s":2,"t":1.4,"v":0.2},{"s":2,"t":1.8,"v":0.22},{"s":2,"t":2.2,"v":0.23},{"s":2,"t":2.35,"v":0.4},{"s":2,"t":2.5,"v":0.75},{"s":2,"t":2.7,"v":1.0},{"s":2,"t":2.9,"v":1.1},{"s":2,"t":3.1,"v":1.13},{"s":2,"t":3.3,"v":1.1},{"s":2,"t":3.5,"v":1.08},{"s":2,"t":3.7,"v":1.07},{"s":2,"t":3.9,"v":1.05},{"s":2,"t":4.1,"v":1.03},{"s":2,"t":4.3,"v":1.08},{"s":2,"t":4.5,"v":1.06},{"s":2,"t":4.7,"v":1.0},{"s":2,"t":4.9,"v":0.88},{"s":2,"t":5.1,"v":0.78},{"s":2,"t":5.3,"v":0.68},{"s":2,"t":5.5,"v":0.58},{"s":2,"t":5.8,"v":0.48},{"s":2,"t":6.1,"v":0.4},{"s":2,"t":6.4,"v":0.34},{"s":2,"t":6.7,"v":0.3},{"s":2,"t":7,"v":0.27},{"s":2,"t":7.3,"v":0.24},{"s":2,"t":7.6,"v":0.2},{"s":2,"t":7.9,"v":0.16},{"s":2,"t":8.1,"v":0.13},{"s":2,"t":8.3,"v":0.15},{"s":2,"t":8.45,"v":0.6},{"s":2,"t":8.6,"v":1.3},{"s":2,"t":8.75,"v":1.48},{"s":2,"t":8.9,"v":1.42},{"s":2,"t":9.1,"v":1.3},{"s":2,"t":9.3,"v":1.22},{"s":2,"t":9.5,"v":1.17},{"s":2,"t":9.7,"v":1.13},{"s":2,"t":9.9,"v":1.1},{"s":2,"t":10.1,"v":1.08},{"s":2,"t":10.3,"v":1.07},{"s":2,"t":10.5,"v":1.05},{"s":2,"t":10.7,"v":1.0},{"s":2,"t":10.8,"v":0.97},
{"s":3,"t":0,"v":0.18},{"s":3,"t":0.5,"v":0.17},{"s":3,"t":1,"v":0.18},{"s":3,"t":1.5,"v":0.19},{"s":3,"t":2,"v":0.2},{"s":3,"t":2.3,"v":0.21},{"s":3,"t":2.45,"v":0.35},{"s":3,"t":2.6,"v":0.65},{"s":3,"t":2.8,"v":0.9},{"s":3,"t":3,"v":1.02},{"s":3,"t":3.2,"v":1.05},{"s":3,"t":3.4,"v":1.0},{"s":3,"t":3.6,"v":0.97},{"s":3,"t":3.8,"v":0.95},{"s":3,"t":4,"v":0.92},{"s":3,"t":4.2,"v":0.9},{"s":3,"t":4.4,"v":0.86},{"s":3,"t":4.6,"v":0.82},{"s":3,"t":4.8,"v":0.77},{"s":3,"t":5,"v":0.7},{"s":3,"t":5.2,"v":0.64},{"s":3,"t":5.4,"v":0.57},{"s":3,"t":5.6,"v":0.5},{"s":3,"t":5.8,"v":0.44},{"s":3,"t":6,"v":0.4},{"s":3,"t":6.3,"v":0.33},{"s":3,"t":6.6,"v":0.27},{"s":3,"t":6.9,"v":0.22},{"s":3,"t":7.2,"v":0.18},{"s":3,"t":7.5,"v":0.14},{"s":3,"t":7.8,"v":0.12},{"s":3,"t":8.1,"v":0.12},{"s":3,"t":8.35,"v":0.14},{"s":3,"t":8.5,"v":0.3},{"s":3,"t":8.65,"v":0.7},{"s":3,"t":8.8,"v":1.15},{"s":3,"t":8.95,"v":1.4},{"s":3,"t":9.1,"v":1.38},{"s":3,"t":9.3,"v":1.2},{"s":3,"t":9.5,"v":1.1},{"s":3,"t":9.7,"v":1.05},{"s":3,"t":9.9,"v":1.02},{"s":3,"t":10.1,"v":1.0},{"s":3,"t":10.3,"v":1.02},{"s":3,"t":10.5,"v":0.98},{"s":3,"t":10.7,"v":0.93},{"s":3,"t":10.8,"v":0.9},
{"s":4,"t":0,"v":0.08},{"s":4,"t":0.5,"v":0.07},{"s":4,"t":1,"v":0.07},{"s":4,"t":1.5,"v":0.07},{"s":4,"t":2,"v":0.07},{"s":4,"t":2.2,"v":0.09},{"s":4,"t":2.4,"v":0.18},{"s":4,"t":2.6,"v":0.3},{"s":4,"t":2.8,"v":0.42},{"s":4,"t":3,"v":0.52},{"s":4,"t":3.3,"v":0.6},{"s":4,"t":3.6,"v":0.65},{"s":4,"t":3.9,"v":0.66},{"s":4,"t":4.2,"v":0.64},{"s":4,"t":4.5,"v":0.6},{"s":4,"t":4.8,"v":0.55},{"s":4,"t":5.1,"v":0.48},{"s":4,"t":5.4,"v":0.4},{"s":4,"t":5.7,"v":0.32},{"s":4,"t":6,"v":0.25},{"s":4,"t":6.3,"v":0.19},{"s":4,"t":6.6,"v":0.14},{"s":4,"t":6.9,"v":0.11},{"s":4,"t":7.2,"v":0.09},{"s":4,"t":7.5,"v":0.11},{"s":4,"t":7.8,"v":0.1},{"s":4,"t":8.1,"v":0.09},{"s":4,"t":8.4,"v":0.1},{"s":4,"t":8.6,"v":0.3},{"s":4,"t":8.8,"v":0.6},{"s":4,"t":9,"v":0.8},{"s":4,"t":9.2,"v":0.9},{"s":4,"t":9.4,"v":0.95},{"s":4,"t":9.6,"v":0.98},{"s":4,"t":9.8,"v":1.0},{"s":4,"t":10,"v":1.02},{"s":4,"t":10.2,"v":1.0},{"s":4,"t":10.4,"v":0.99},{"s":4,"t":10.6,"v":0.97},{"s":4,"t":10.8,"v":0.94},
{"s":5,"t":0,"v":0.07},{"s":5,"t":0.5,"v":0.07},{"s":5,"t":1,"v":0.07},{"s":5,"t":1.5,"v":0.07},{"s":5,"t":2,"v":0.07},{"s":5,"t":2.3,"v":0.08},{"s":5,"t":2.6,"v":0.13},{"s":5,"t":2.9,"v":0.2},{"s":5,"t":3.2,"v":0.26},{"s":5,"t":3.5,"v":0.31},{"s":5,"t":3.8,"v":0.34},{"s":5,"t":4.1,"v":0.35},{"s":5,"t":4.4,"v":0.36},{"s":5,"t":4.7,"v":0.37},{"s":5,"t":5,"v":0.33},{"s":5,"t":5.3,"v":0.28},{"s":5,"t":5.6,"v":0.22},{"s":5,"t":5.9,"v":0.16},{"s":5,"t":6.2,"v":0.11},{"s":5,"t":6.5,"v":0.08},{"s":5,"t":6.8,"v":0.06},{"s":5,"t":7.1,"v":0.05},{"s":5,"t":7.4,"v":0.05},
{"s":6,"t":7.2,"v":0.08},{"s":6,"t":7.5,"v":0.06},{"s":6,"t":7.8,"v":0.05},{"s":6,"t":8.1,"v":0.05},{"s":6,"t":8.4,"v":0.05},{"s":6,"t":8.7,"v":0.08},{"s":6,"t":9,"v":0.18},{"s":6,"t":9.3,"v":0.35},{"s":6,"t":9.6,"v":0.6},{"s":6,"t":9.8,"v":0.75},{"s":6,"t":9.95,"v":0.82},{"s":6,"t":10.1,"v":0.78},{"s":6,"t":10.3,"v":0.62},{"s":6,"t":10.5,"v":0.45},{"s":6,"t":10.7,"v":0.37},{"s":6,"t":10.85,"v":0.33}
],
"bars":[
{"p":"A","t":1.0,"t2":3.0,"v":1.97,"label":"AITC"},
{"p":"B","t":1.0,"t2":3.07,"v":1.32,"label":"AITC"},
{"p":"C","t":1.16,"t2":3.22,"v":0.86,"label":"AITC"},
{"p":"D","t":1.87,"t2":5.22,"v":2.67,"label":"Thymol"},
{"p":"D","t":7.85,"t2":10.0,"v":3.23,"label":"AITC"},
{"p":"E","t":1.93,"t2":5.25,"v":1.4,"label":"Thymol"},
{"p":"E","t":7.98,"t2":10.13,"v":1.835,"label":"AITC"},
{"p":"F","t":1.84,"t2":5.16,"v":1.66,"label":"Thymol"},
{"p":"F","t":7.88,"t2":10.0,"v":1.79,"label":"AITC"}
]
},
"columns":3,
"spacing":{"row":112,"column":54.8},
"bounds":"flush",
"concat":[
{"width":198,"height":284,"layer":[
 {"data":{"name":"A"},"mark":{"type":"line","color":"#000","strokeWidth":1.3},"encoding":{
  "x":{"field":"t","type":"quantitative","scale":{"domain":[0,5],"nice":false},"axis":{"title":"Time (min)","values":[0,1,2,3,4,5],"format":"d"}},
  "y":{"field":"v","type":"quantitative","scale":{"domain":[0,2.2],"nice":false},"axis":{"title":"[Ca²⁺] (μM)","values":[0,0.5,1,1.5,2],"format":".1f"}},
  "detail":{"field":"s","type":"nominal"}}},
 {"data":{"name":"xt5"},"mark":{"type":"tick","orient":"vertical","color":"#000","opacity":1,"thickness":1.3,"size":6,"yOffset":3},"transform":[{"filter":"datum.m==1"}],"encoding":{"x":{"field":"t","type":"quantitative"},"y":{"datum":0,"type":"quantitative"}}},
 {"data":{"name":"xt5"},"mark":{"type":"tick","orient":"vertical","color":"#000","opacity":1,"thickness":1.3,"size":3.5,"yOffset":1.75},"transform":[{"filter":"datum.m==0"}],"encoding":{"x":{"field":"t","type":"quantitative"},"y":{"datum":0,"type":"quantitative"}}},
 {"data":{"name":"yt2"},"mark":{"type":"tick","orient":"horizontal","color":"#000","opacity":1,"thickness":1.3,"size":6,"xOffset":-3},"transform":[{"filter":"datum.m==1"}],"encoding":{"y":{"field":"v","type":"quantitative"},"x":{"datum":0,"type":"quantitative"}}},
 {"data":{"name":"yt2"},"mark":{"type":"tick","orient":"horizontal","color":"#000","opacity":1,"thickness":1.3,"size":3.5,"xOffset":-1.75},"transform":[{"filter":"datum.m==0"}],"encoding":{"y":{"field":"v","type":"quantitative"},"x":{"datum":0,"type":"quantitative"}}},
 {"data":{"name":"bars"},"transform":[{"filter":"datum.p==='A'"}],"mark":{"type":"rule","color":"#000","strokeWidth":4},"encoding":{"x":{"field":"t","type":"quantitative"},"x2":{"field":"t2"},"y":{"field":"v","type":"quantitative"}}},
 {"data":{"name":"bars"},"transform":[{"filter":"datum.p==='A'"},{"calculate":"(datum.t+datum.t2)/2","as":"tm"}],"mark":{"type":"text","fontSize":16.5,"dy":-8,"baseline":"alphabetic","align":"center"},"encoding":{"x":{"field":"tm","type":"quantitative"},"y":{"field":"v","type":"quantitative"},"text":{"field":"label"}}},
 {"data":{"values":[{}]},"mark":{"type":"text","text":"A","fontSize":26,"align":"left","baseline":"alphabetic"},"encoding":{"x":{"datum":-1.71,"type":"quantitative"},"y":{"datum":2.293,"type":"quantitative"}}},
 {"data":{"values":[{}]},"mark":{"type":"text","text":"Control","fontSize":16.5,"align":"left","baseline":"alphabetic"},"encoding":{"x":{"datum":0.336,"type":"quantitative"},"y":{"datum":2.27,"type":"quantitative"}}}
]},
{"width":198,"height":284,"layer":[
 {"data":{"name":"B"},"mark":{"type":"line","color":"#000","strokeWidth":1.3},"encoding":{
  "x":{"field":"t","type":"quantitative","scale":{"domain":[0,5],"nice":false},"axis":{"title":"Time (min)","values":[0,1,2,3,4,5],"format":"d"}},
  "y":{"field":"v","type":"quantitative","scale":{"domain":[0,2],"nice":false},"axis":{"title":null,"values":[0,0.5,1,1.5,2],"format":".1f"}},
  "detail":{"field":"s","type":"nominal"}}},
 {"data":{"name":"xt5"},"mark":{"type":"tick","orient":"vertical","color":"#000","opacity":1,"thickness":1.3,"size":6,"yOffset":3},"transform":[{"filter":"datum.m==1"}],"encoding":{"x":{"field":"t","type":"quantitative"},"y":{"datum":0,"type":"quantitative"}}},
 {"data":{"name":"xt5"},"mark":{"type":"tick","orient":"vertical","color":"#000","opacity":1,"thickness":1.3,"size":3.5,"yOffset":1.75},"transform":[{"filter":"datum.m==0"}],"encoding":{"x":{"field":"t","type":"quantitative"},"y":{"datum":0,"type":"quantitative"}}},
 {"data":{"name":"yt2"},"mark":{"type":"tick","orient":"horizontal","color":"#000","opacity":1,"thickness":1.3,"size":6,"xOffset":-3},"transform":[{"filter":"datum.m==1"}],"encoding":{"y":{"field":"v","type":"quantitative"},"x":{"datum":0,"type":"quantitative"}}},
 {"data":{"name":"yt2"},"mark":{"type":"tick","orient":"horizontal","color":"#000","opacity":1,"thickness":1.3,"size":3.5,"xOffset":-1.75},"transform":[{"filter":"datum.m==0"}],"encoding":{"y":{"field":"v","type":"quantitative"},"x":{"datum":0,"type":"quantitative"}}},
 {"data":{"name":"bars"},"transform":[{"filter":"datum.p==='B'"}],"mark":{"type":"rule","color":"#000","strokeWidth":4},"encoding":{"x":{"field":"t","type":"quantitative"},"x2":{"field":"t2"},"y":{"field":"v","type":"quantitative"}}},
 {"data":{"name":"bars"},"transform":[{"filter":"datum.p==='B'"},{"calculate":"(datum.t+datum.t2)/2","as":"tm"}],"mark":{"type":"text","fontSize":16.5,"dy":-8,"baseline":"alphabetic","align":"center"},"encoding":{"x":{"field":"tm","type":"quantitative"},"y":{"field":"v","type":"quantitative"},"text":{"field":"label"}}},
 {"data":{"values":[{}]},"mark":{"type":"text","text":"B","fontSize":26,"align":"left","baseline":"alphabetic"},"encoding":{"x":{"datum":-1.57,"type":"quantitative"},"y":{"datum":2.085,"type":"quantitative"}}},
 {"data":{"values":[{}]},"mark":{"type":"text","text":"MCD","fontSize":16.5,"align":"left","baseline":"alphabetic"},"encoding":{"x":{"datum":0.4,"type":"quantitative"},"y":{"datum":2.065,"type":"quantitative"}}}
]},
{"width":198,"height":284,"layer":[
 {"data":{"name":"C"},"mark":{"type":"line","color":"#000","strokeWidth":1.3},"encoding":{
  "x":{"field":"t","type":"quantitative","scale":{"domain":[0,5],"nice":false},"axis":{"title":"Time (min)","values":[0,1,2,3,4,5],"format":"d"}},
  "y":{"field":"v","type":"quantitative","scale":{"domain":[0,2],"nice":false},"axis":{"title":null,"values":[0,0.5,1,1.5,2],"format":".1f"}},
  "detail":{"field":"s","type":"nominal"}}},
 {"data":{"name":"xt5"},"mark":{"type":"tick","orient":"vertical","color":"#000","opacity":1,"thickness":1.3,"size":6,"yOffset":3},"transform":[{"filter":"datum.m==1"}],"encoding":{"x":{"field":"t","type":"quantitative"},"y":{"datum":0,"type":"quantitative"}}},
 {"data":{"name":"xt5"},"mark":{"type":"tick","orient":"vertical","color":"#000","opacity":1,"thickness":1.3,"size":3.5,"yOffset":1.75},"transform":[{"filter":"datum.m==0"}],"encoding":{"x":{"field":"t","type":"quantitative"},"y":{"datum":0,"type":"quantitative"}}},
 {"data":{"name":"yt2"},"mark":{"type":"tick","orient":"horizontal","color":"#000","opacity":1,"thickness":1.3,"size":6,"xOffset":-3},"transform":[{"filter":"datum.m==1"}],"encoding":{"y":{"field":"v","type":"quantitative"},"x":{"datum":0,"type":"quantitative"}}},
 {"data":{"name":"yt2"},"mark":{"type":"tick","orient":"horizontal","color":"#000","opacity":1,"thickness":1.3,"size":3.5,"xOffset":-1.75},"transform":[{"filter":"datum.m==0"}],"encoding":{"y":{"field":"v","type":"quantitative"},"x":{"datum":0,"type":"quantitative"}}},
 {"data":{"name":"bars"},"transform":[{"filter":"datum.p==='C'"}],"mark":{"type":"rule","color":"#000","strokeWidth":4},"encoding":{"x":{"field":"t","type":"quantitative"},"x2":{"field":"t2"},"y":{"field":"v","type":"quantitative"}}},
 {"data":{"name":"bars"},"transform":[{"filter":"datum.p==='C'"},{"calculate":"(datum.t+datum.t2)/2","as":"tm"}],"mark":{"type":"text","fontSize":16.5,"dy":-8,"baseline":"alphabetic","align":"center"},"encoding":{"x":{"field":"tm","type":"quantitative"},"y":{"field":"v","type":"quantitative"},"text":{"field":"label"}}},
 {"data":{"values":[{}]},"mark":{"type":"text","text":"C","fontSize":26,"align":"left","baseline":"alphabetic"},"encoding":{"x":{"datum":-1.4,"type":"quantitative"},"y":{"datum":2.085,"type":"quantitative"}}},
 {"data":{"values":[{}]},"mark":{"type":"text","text":"SMase","fontSize":16.5,"align":"left","baseline":"alphabetic"},"encoding":{"x":{"datum":0.34,"type":"quantitative"},"y":{"datum":2.065,"type":"quantitative"}}}
]},
{"width":198,"height":283,"layer":[
 {"data":{"name":"D"},"mark":{"type":"line","color":"#000","strokeWidth":1.3},"encoding":{
  "x":{"field":"t","type":"quantitative","scale":{"domain":[0,11],"nice":false},"axis":{"title":"Time (min)","values":[0,2,4,6,8,10],"format":"d"}},
  "y":{"field":"v","type":"quantitative","scale":{"domain":[0,3.5],"nice":false},"axis":{"title":"[Ca²⁺] (μM)","values":[0,1,2,3],"format":"d"}},
  "detail":{"field":"s","type":"nominal"}}},
 {"data":{"name":"xt11"},"mark":{"type":"tick","orient":"vertical","color":"#000","opacity":1,"thickness":1.3,"size":6,"yOffset":3},"transform":[{"filter":"datum.m==1"}],"encoding":{"x":{"field":"t","type":"quantitative"},"y":{"datum":0,"type":"quantitative"}}},
 {"data":{"name":"xt11"},"mark":{"type":"tick","orient":"vertical","color":"#000","opacity":1,"thickness":1.3,"size":3.5,"yOffset":1.75},"transform":[{"filter":"datum.m==0"}],"encoding":{"x":{"field":"t","type":"quantitative"},"y":{"datum":0,"type":"quantitative"}}},
 {"data":{"name":"yt35"},"mark":{"type":"tick","orient":"horizontal","color":"#000","opacity":1,"thickness":1.3,"size":6,"xOffset":-3},"transform":[{"filter":"datum.m==1"}],"encoding":{"y":{"field":"v","type":"quantitative"},"x":{"datum":0,"type":"quantitative"}}},
 {"data":{"name":"yt35"},"mark":{"type":"tick","orient":"horizontal","color":"#000","opacity":1,"thickness":1.3,"size":3.5,"xOffset":-1.75},"transform":[{"filter":"datum.m==0"}],"encoding":{"y":{"field":"v","type":"quantitative"},"x":{"datum":0,"type":"quantitative"}}},
 {"data":{"name":"bars"},"transform":[{"filter":"datum.p==='D'"}],"mark":{"type":"rule","color":"#000","strokeWidth":4},"encoding":{"x":{"field":"t","type":"quantitative"},"x2":{"field":"t2"},"y":{"field":"v","type":"quantitative"}}},
 {"data":{"name":"bars"},"transform":[{"filter":"datum.p==='D'"},{"calculate":"(datum.t+datum.t2)/2","as":"tm"}],"mark":{"type":"text","fontSize":16.5,"dy":-8,"baseline":"alphabetic","align":"center"},"encoding":{"x":{"field":"tm","type":"quantitative"},"y":{"field":"v","type":"quantitative"},"text":{"field":"label"}}},
 {"data":{"values":[{}]},"mark":{"type":"text","text":"D","fontSize":26,"align":"left","baseline":"alphabetic"},"encoding":{"x":{"datum":-3.76,"type":"quantitative"},"y":{"datum":3.72,"type":"quantitative"}}},
 {"data":{"values":[{}]},"mark":{"type":"text","text":"Control","fontSize":16.5,"align":"left","baseline":"alphabetic"},"encoding":{"x":{"datum":0.74,"type":"quantitative"},"y":{"datum":3.63,"type":"quantitative"}}}
]},
{"width":198,"height":283,"layer":[
 {"data":{"name":"E"},"mark":{"type":"line","color":"#000","strokeWidth":1.3},"encoding":{
  "x":{"field":"t","type":"quantitative","scale":{"domain":[0,11],"nice":false},"axis":{"title":"Time (min)","values":[0,2,4,6,8,10],"format":"d"}},
  "y":{"field":"v","type":"quantitative","scale":{"domain":[0,3.5],"nice":false},"axis":{"title":null,"values":[0,1,2,3],"format":"d"}},
  "detail":{"field":"s","type":"nominal"}}},
 {"data":{"name":"xt11"},"mark":{"type":"tick","orient":"vertical","color":"#000","opacity":1,"thickness":1.3,"size":6,"yOffset":3},"transform":[{"filter":"datum.m==1"}],"encoding":{"x":{"field":"t","type":"quantitative"},"y":{"datum":0,"type":"quantitative"}}},
 {"data":{"name":"xt11"},"mark":{"type":"tick","orient":"vertical","color":"#000","opacity":1,"thickness":1.3,"size":3.5,"yOffset":1.75},"transform":[{"filter":"datum.m==0"}],"encoding":{"x":{"field":"t","type":"quantitative"},"y":{"datum":0,"type":"quantitative"}}},
 {"data":{"name":"yt35"},"mark":{"type":"tick","orient":"horizontal","color":"#000","opacity":1,"thickness":1.3,"size":6,"xOffset":-3},"transform":[{"filter":"datum.m==1"}],"encoding":{"y":{"field":"v","type":"quantitative"},"x":{"datum":0,"type":"quantitative"}}},
 {"data":{"name":"yt35"},"mark":{"type":"tick","orient":"horizontal","color":"#000","opacity":1,"thickness":1.3,"size":3.5,"xOffset":-1.75},"transform":[{"filter":"datum.m==0"}],"encoding":{"y":{"field":"v","type":"quantitative"},"x":{"datum":0,"type":"quantitative"}}},
 {"data":{"name":"bars"},"transform":[{"filter":"datum.p==='E'"}],"mark":{"type":"rule","color":"#000","strokeWidth":4},"encoding":{"x":{"field":"t","type":"quantitative"},"x2":{"field":"t2"},"y":{"field":"v","type":"quantitative"}}},
 {"data":{"name":"bars"},"transform":[{"filter":"datum.p==='E'"},{"calculate":"(datum.t+datum.t2)/2","as":"tm"}],"mark":{"type":"text","fontSize":16.5,"dy":-8,"baseline":"alphabetic","align":"center"},"encoding":{"x":{"field":"tm","type":"quantitative"},"y":{"field":"v","type":"quantitative"},"text":{"field":"label"}}},
 {"data":{"values":[{}]},"mark":{"type":"text","text":"E","fontSize":26,"align":"left","baseline":"alphabetic"},"encoding":{"x":{"datum":-2.41,"type":"quantitative"},"y":{"datum":3.72,"type":"quantitative"}}},
 {"data":{"values":[{}]},"mark":{"type":"text","text":"MCD","fontSize":16.5,"align":"left","baseline":"alphabetic"},"encoding":{"x":{"datum":0.89,"type":"quantitative"},"y":{"datum":3.63,"type":"quantitative"}}}
]},
{"width":198,"height":283,"layer":[
 {"data":{"name":"F"},"mark":{"type":"line","color":"#000","strokeWidth":1.3},"encoding":{
  "x":{"field":"t","type":"quantitative","scale":{"domain":[0,11],"nice":false},"axis":{"title":"Time (min)","values":[0,2,4,6,8,10],"format":"d"}},
  "y":{"field":"v","type":"quantitative","scale":{"domain":[0,3.5],"nice":false},"axis":{"title":null,"values":[0,1,2,3],"format":"d"}},
  "detail":{"field":"s","type":"nominal"}}},
 {"data":{"name":"xt11"},"mark":{"type":"tick","orient":"vertical","color":"#000","opacity":1,"thickness":1.3,"size":6,"yOffset":3},"transform":[{"filter":"datum.m==1"}],"encoding":{"x":{"field":"t","type":"quantitative"},"y":{"datum":0,"type":"quantitative"}}},
 {"data":{"name":"xt11"},"mark":{"type":"tick","orient":"vertical","color":"#000","opacity":1,"thickness":1.3,"size":3.5,"yOffset":1.75},"transform":[{"filter":"datum.m==0"}],"encoding":{"x":{"field":"t","type":"quantitative"},"y":{"datum":0,"type":"quantitative"}}},
 {"data":{"name":"yt35"},"mark":{"type":"tick","orient":"horizontal","color":"#000","opacity":1,"thickness":1.3,"size":6,"xOffset":-3},"transform":[{"filter":"datum.m==1"}],"encoding":{"y":{"field":"v","type":"quantitative"},"x":{"datum":0,"type":"quantitative"}}},
 {"data":{"name":"yt35"},"mark":{"type":"tick","orient":"horizontal","color":"#000","opacity":1,"thickness":1.3,"size":3.5,"xOffset":-1.75},"transform":[{"filter":"datum.m==0"}],"encoding":{"y":{"field":"v","type":"quantitative"},"x":{"datum":0,"type":"quantitative"}}},
 {"data":{"name":"bars"},"transform":[{"filter":"datum.p==='F'"}],"mark":{"type":"rule","color":"#000","strokeWidth":4},"encoding":{"x":{"field":"t","type":"quantitative"},"x2":{"field":"t2"},"y":{"field":"v","type":"quantitative"}}},
 {"data":{"name":"bars"},"transform":[{"filter":"datum.p==='F'"},{"calculate":"(datum.t+datum.t2)/2","as":"tm"}],"mark":{"type":"text","fontSize":16.5,"dy":-8,"baseline":"alphabetic","align":"center"},"encoding":{"x":{"field":"tm","type":"quantitative"},"y":{"field":"v","type":"quantitative"},"text":{"field":"label"}}},
 {"data":{"values":[{}]},"mark":{"type":"text","text":"F","fontSize":26,"align":"left","baseline":"alphabetic"},"encoding":{"x":{"datum":-2.03,"type":"quantitative"},"y":{"datum":3.72,"type":"quantitative"}}},
 {"data":{"values":[{}]},"mark":{"type":"text","text":"SMase","fontSize":16.5,"align":"left","baseline":"alphabetic"},"encoding":{"x":{"datum":0.74,"type":"quantitative"},"y":{"datum":3.63,"type":"quantitative"}}}
]}
]
}
